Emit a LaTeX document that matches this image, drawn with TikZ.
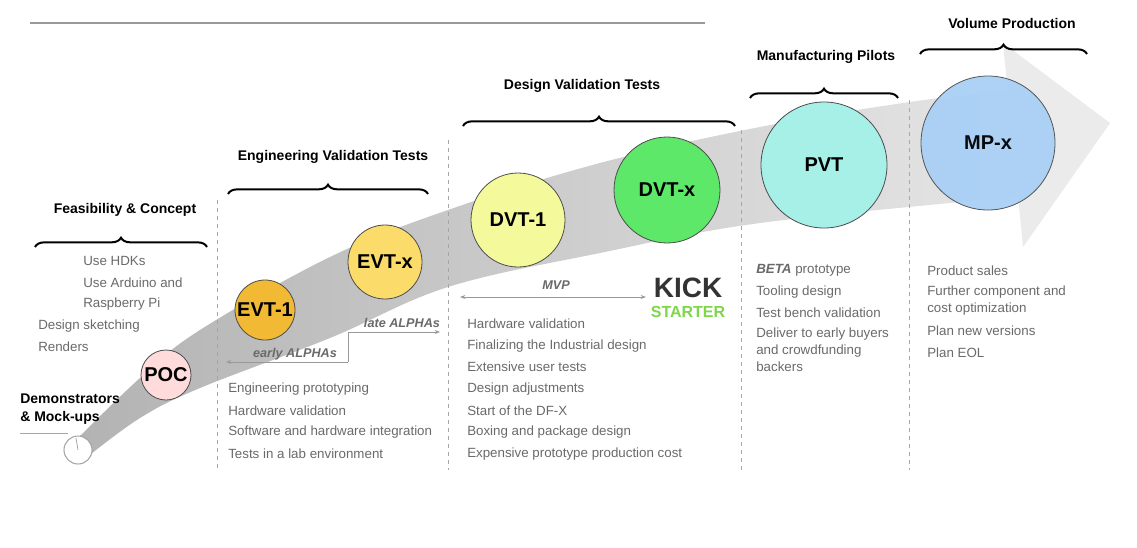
\documentclass[tikz,border=0pt]{standalone}
\usepackage{fontspec}
\setmainfont{Liberation Sans}
\usetikzlibrary{decorations.pathreplacing,arrows.meta}
\definecolor{txt}{HTML}{6A6A6A}
\begin{document}
\begin{tikzpicture}[x=0.75pt,y=-0.75pt,
  stage/.style={circle,draw=black!70,line width=0.6pt,font=\fontsize{15}{15}\selectfont\bfseries,inner sep=0pt},
  item/.style={anchor=west,text=txt,font=\fontsize{10}{12.5}\selectfont,align=left,inner sep=0pt},
  ttl/.style={font=\fontsize{10.5}{13.5}\selectfont\bfseries,inner sep=0pt},
  brc/.style={decorate,decoration={brace,amplitude=7pt},line width=1.5pt},
  dsh/.style={draw=black!35,dashed,line width=0.6pt},
  sm/.style={draw=black!40,line width=0.6pt,-{Stealth[length=4pt,width=3pt]}}]
\useasboundingbox (0,0) rectangle (1137,547);
\fill[white] (0,0) rectangle (1137,547);
\draw[black!40,line width=0.8pt] (30,23) -- (705,23);
% arrow head
\fill[black!8] (1003,43) -- (1110,123) -- (1023,247) -- cycle;
% shaft
\shade[left color=black!30,right color=black!10]
  plot[smooth,tension=0.6] coordinates {(72,444) (140,378) (200,330) (330,257) (448,210) (600,163) (760,127) (910,102) (1015,90)}
  -- plot[smooth,tension=0.6] coordinates {(1015,197) (760,223) (600,253) (448,287) (330,338) (200,388) (140,418) (86,458)} -- cycle;
% dashed separators
\draw[dsh] (217,200) -- (217,470);
\draw[dsh] (448,140) -- (448,470);
\draw[dsh] (741,130) -- (741,470);
\draw[dsh] (909,100) -- (909,470);
% circles
\node[circle,draw=black!35,line width=0.8pt,minimum size=28*0.75pt,fill=white] (demo) at (78,450) {};
\node[stage,fill=pink!70!red!30,minimum size=50*0.75pt] (poc) at (166,375) {POC};
\node[stage,fill={rgb,255:red,242;green,185;blue,53},minimum size=60*0.75pt] (evt1) at (265,310) {EVT-1};
\node[stage,fill={rgb,255:red,251;green,220;blue,106},minimum size=74*0.75pt] (evtx) at (385,262) {EVT-x};
\node[stage,fill={rgb,255:red,244;green,250;blue,156},minimum size=94*0.75pt] (dvt1) at (518,220) {DVT-1};
\node[stage,fill={rgb,255:red,94;green,232;blue,106},minimum size=106*0.75pt] (dvtx) at (667,190) {DVT-x};
\node[stage,fill={rgb,255:red,166;green,240;blue,232},minimum size=126*0.75pt] (pvt) at (824,165) {PVT};
\node[stage,fill={rgb,255:red,169;green,208;blue,246},minimum size=134*0.75pt,opacity=0.95] (mpx) at (988,143) {MP-x};
% demonstrators
\node[anchor=west,ttl,align=left] (demot) at (20,409) {Demonstrators\\\& Mock-ups};
\coordinate (ul1) at (20,433);
\coordinate (ul2) at (68,433);
\draw[black!35,line width=0.6pt] (ul1) -- (ul2);
\coordinate (in1) at (76,438);
\draw[black!35,line width=0.6pt] (in1) -- (demo.center);
% titles and braces
\node[ttl] (t1) at (125,210) {Feasibility \& Concept};
\draw[brc] (35,247) -- (207,247);
\node[ttl] (t2) at (333,157) {Engineering Validation Tests};
\draw[brc] (228,194) -- (428,194);
\node[ttl] (t3) at (582,86) {Design Validation Tests};
\draw[brc] (463,126) -- (735,126);
\node[ttl] (t4) at (826,57) {Manufacturing Pilots};
\draw[brc] (750,98) -- (898,98);
\node[ttl] (t5) at (1012,23) {Volume Production};
\draw[brc] (920,54) -- (1087,54);
% lists
\node[item] at (83,261) {Use HDKs};
\node[item] at (83,283) {Use Arduino and};
\node[item] at (83,304) {Raspberry Pi};
\node[item] at (38,326) {Design sketching};
\node[item] at (38,347) {Renders};
\node[item] at (228,389) {Engineering prototyping};
\node[item] at (228,411) {Hardware validation};
\node[item] at (228,432) {Software and hardware integration};
\node[item] at (228,454) {Tests in a lab environment};
\node[item] at (467,324) {Hardware validation};
\node[item] at (467,346) {Finalizing the Industrial design};
\node[item] at (467,367) {Extensive user tests};
\node[item] at (467,389) {Design adjustments};
\node[item] at (467,411) {Start of the DF-X};
\node[item] at (467,432) {Boxing and package design};
\node[item] at (467,454) {Expensive prototype production cost};
\node[item] at (756,270) {\textbf{\textit{BETA}} prototype};
\node[item] at (756,292) {Tooling design};
\node[item] at (756,313) {Test bench validation};
\node[item,anchor=north west] at (756,328) {Deliver to early buyers\\and crowdfunding\\backers};
\node[item] at (927,271) {Product sales};
\node[item,anchor=north west] at (927,286) {Further component and\\cost optimization};
\node[item] at (927,331) {Plan new versions};
\node[item] at (927,353) {Plan EOL};
% alphas
\coordinate (ea) at (226,362);
\coordinate (c1) at (348,362);
\coordinate (c2) at (348,332);
\coordinate (la) at (440,332);
\draw[sm] (c1) -- (ea);
\draw[sm] (c1) -- (c2) -- (la);
\node[text=txt,font=\fontsize{9.5}{10}\selectfont\bfseries\itshape] (eal) at (295,354) {early ALPHAs};
\node[text=txt,font=\fontsize{9.5}{10}\selectfont\bfseries\itshape] (lal) at (402,323) {late ALPHAs};
% MVP
\coordinate (m1) at (460,297);
\coordinate (m2) at (646,297);
\draw[draw=black!40,line width=0.6pt,{Stealth[length=4pt,width=3pt]}-{Stealth[length=4pt,width=3pt]}] (m1) -- (m2);
\node[text=txt,font=\fontsize{9.5}{10}\selectfont\bfseries\itshape] (mvp) at (556,285) {MVP};
% kickstarter
\node[text=black!80,font=\fontsize{21}{21}\selectfont\bfseries,inner sep=0pt] (kick) at (688,288) {KICK};
\node[text={rgb,255:red,126;green,214;blue,74},font=\fontsize{12}{12}\selectfont\bfseries,inner sep=0pt] (start) at (688,312) {STARTER};
\end{tikzpicture}
\end{document}
